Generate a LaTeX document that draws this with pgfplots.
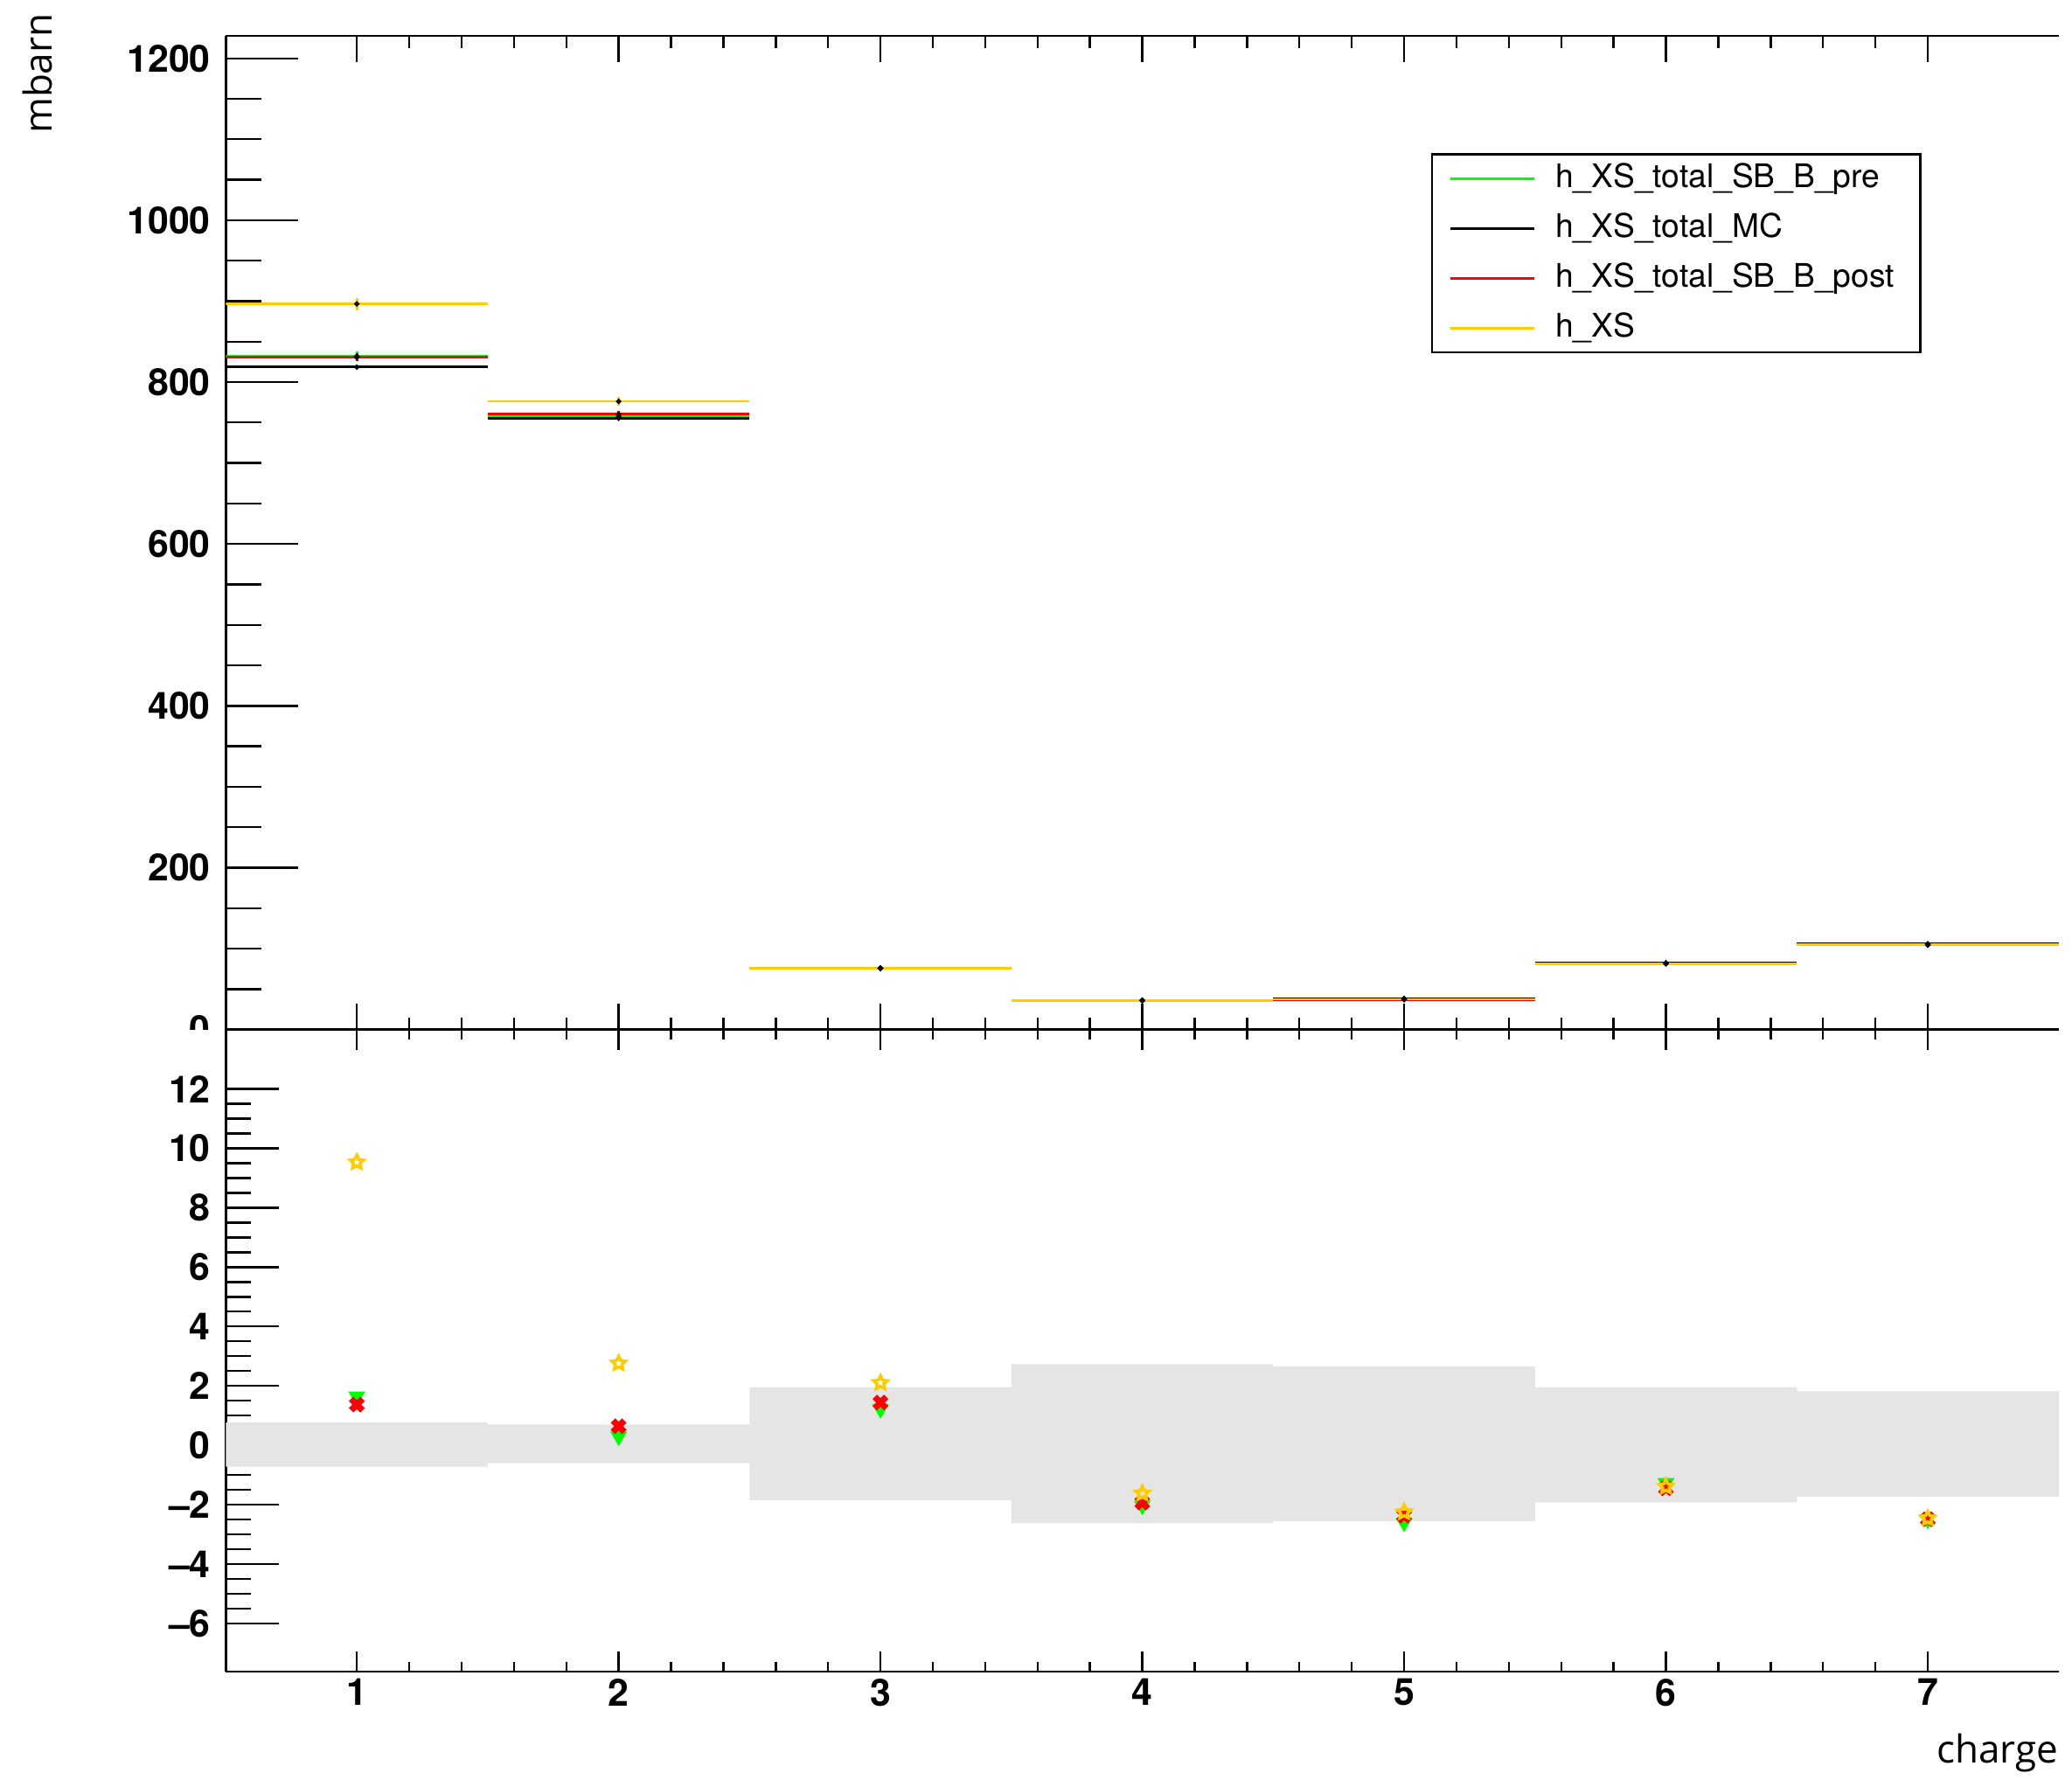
\documentclass[border=0pt]{standalone}
\usepackage{fontspec}
\setmainfont{TeX Gyre Heros}
\newfontfamily\titlefont{Open Sans}
\usepackage{pgfplots}
\pgfplotsset{compat=1.18}

\definecolor{rootgreen}{RGB}{0,255,0}
\definecolor{rootred}{RGB}{255,0,0}
\definecolor{rootyellow}{RGB}{255,204,0}
\definecolor{bandgrey}{RGB}{229,229,229}

% open five-pointed star marker
\pgfdeclareplotmark{openstar}{%
  \pgfpathmoveto{\pgfpointpolar{90}{\pgfplotmarksize}}%
  \pgfpathlineto{\pgfpointpolar{126}{0.5\pgfplotmarksize}}%
  \pgfpathlineto{\pgfpointpolar{162}{\pgfplotmarksize}}%
  \pgfpathlineto{\pgfpointpolar{198}{0.5\pgfplotmarksize}}%
  \pgfpathlineto{\pgfpointpolar{234}{\pgfplotmarksize}}%
  \pgfpathlineto{\pgfpointpolar{270}{0.5\pgfplotmarksize}}%
  \pgfpathlineto{\pgfpointpolar{306}{\pgfplotmarksize}}%
  \pgfpathlineto{\pgfpointpolar{342}{0.5\pgfplotmarksize}}%
  \pgfpathlineto{\pgfpointpolar{18}{\pgfplotmarksize}}%
  \pgfpathlineto{\pgfpointpolar{54}{0.5\pgfplotmarksize}}%
  \pgfpathclose
  \pgfusepathqstroke
}

\pgfplotsset{
  panel/.style={
    scale only axis, width=524.1pt,
    xmin=0.5, xmax=7.5,
    axis x line*=box, axis y line*=left,
    tick align=inside,
    axis line style={line width=0.6pt},
    every tick/.style={black, line width=0.6pt},
    xtick={1,2,3,4,5,6,7}, minor x tick num=4,
    minor y tick num=3,
    tick label style={font=\fontsize{10.7}{12}\selectfont\bfseries},
    yticklabel style={inner sep=0pt, xshift=-4.2pt},
    xticklabel style={inner sep=0pt, yshift=-1.9pt},
  },
  hist/.style={
    only marks, mark=*, mark size=0.35pt,
    mark options={draw=black, fill=black},
    line width=0.7pt,
    error bars/x dir=both, error bars/x explicit,
    error bars/y dir=both, error bars/y explicit,
    error bars/error mark=none,
    error bars/error bar style={line width=0.7pt},
  },
}

\begin{document}
\begin{tikzpicture}
\useasboundingbox (-64.6pt,-214.4pt) rectangle (527.9pt,294.4pt);

% upper panel: cross sections per charge bin
\begin{axis}[panel,
  at={(0pt,0pt)}, anchor=south west, height=284.2pt,
  ymin=0, ymax=1228,
  ytick={0,200,400,600,800,1000,1200},
  yticklabels={0,200,400,600,800,1000,1200},
  xticklabels=\empty,
  xtick style={/pgfplots/major tick length=7.5pt, /pgfplots/minor tick length=3.5pt},
  ytick style={/pgfplots/major tick length=20.75pt, /pgfplots/minor tick length=10.25pt},
  legend image code/.code={\draw[line width=0.7pt] (0pt,0pt) -- (24pt,0pt);},
  legend cell align=left,
  legend style={at={(0.6575,0.8816)}, anchor=north west,
    draw=black, line width=0.6pt, fill=white,
    inner xsep=4.9pt, inner ysep=2.2pt, row sep=4.75pt, column sep=5.7pt,
    font=\fontsize{9.3}{11}\selectfont,
    nodes={inner sep=0pt, text height=7.2pt, text depth=2.3pt,
           text width=99.4pt, align=left}},
]
\addplot[hist, color=rootgreen] coordinates {
  (1,832.0) +- (0.5,6) (2,757.8) +- (0.5,4) (3,75.6) +- (0.5,1)
  (4,35.6) +- (0.5,0.8) (5,36.9) +- (0.5,0.8) (6,81.5) +- (0.5,1)
  (7,104.5) +- (0.5,1)};
\addlegendentry{h\_XS\_total\_SB\_B\_pre}
\addplot[hist, color=black] coordinates {
  (1,818.5) +- (0.5,2) (2,755.2) +- (0.5,2) (3,75.3) +- (0.5,0.5)
  (4,36.3) +- (0.5,0.5) (5,38.5) +- (0.5,0.5) (6,82.4) +- (0.5,0.5)
  (7,106.0) +- (0.5,0.5)};
\addlegendentry{h\_XS\_total\_MC}
\addplot[hist, color=rootred] coordinates {
  (1,830.5) +- (0.5,5) (2,760.3) +- (0.5,4) (3,75.7) +- (0.5,1)
  (4,35.7) +- (0.5,0.8) (5,37.2) +- (0.5,0.8) (6,81.3) +- (0.5,1)
  (7,104.4) +- (0.5,1)};
\addlegendentry{h\_XS\_total\_SB\_B\_post}
\addplot[hist, color=rootyellow] coordinates {
  (1,896.5) +- (0.5,7.5) (2,776.2) +- (0.5,5) (3,76.0) +- (0.5,1)
  (4,35.9) +- (0.5,0.8) (5,37.4) +- (0.5,0.8) (6,81.4) +- (0.5,1)
  (7,104.6) +- (0.5,1)};
\addlegendentry{h\_XS}
\end{axis}

% the lower pad hides the lower half of the zero label
\fill[white] (-40pt,0pt) rectangle (-0.4pt,-6pt);

% lower panel: pulls with the MC uncertainty band
\begin{axis}[panel,
  at={(0pt,0pt)}, anchor=north west, height=183.6pt,
  ymin=-7.62, ymax=14,
  ytick={-6,-4,-2,0,2,4,6,8,10,12},
  yticklabels={\textendash6,\textendash4,\textendash2,0,2,4,6,8,10,12},
  xticklabels={1,2,3,4,5,6,7},
  xtick style={/pgfplots/major tick length=5.75pt, /pgfplots/minor tick length=2.75pt},
  ytick style={/pgfplots/major tick length=15.25pt, /pgfplots/minor tick length=7.25pt},
]
\addplot[draw=none, fill=bandgrey, forget plot] coordinates {
  (0.5,0.77) (1.5,0.77) (1.5,0.70) (2.5,0.70) (2.5,1.96) (3.5,1.96)
  (3.5,2.73) (4.5,2.73) (4.5,2.66) (5.5,2.66) (5.5,1.96) (6.5,1.96)
  (6.5,1.82) (7.5,1.82)
  (7.5,-1.73) (6.5,-1.73) (6.5,-1.92) (5.5,-1.92) (5.5,-2.55) (4.5,-2.55)
  (4.5,-2.62) (3.5,-2.62) (3.5,-1.85) (2.5,-1.85) (2.5,-0.60) (1.5,-0.60)
  (1.5,-0.72) (0.5,-0.72)};
\addplot[only marks, mark=triangle*, mark size=2.4pt, color=rootgreen,
  mark options={rotate=180}] coordinates {
  (1,1.65) (2,0.30) (3,1.22) (4,-2.03) (5,-2.60) (6,-1.27) (7,-2.50)};
\addplot[only marks, mark=x, mark size=2.3pt, color=rootred,
  mark options={line width=1.8pt}] coordinates {
  (1,1.37) (2,0.64) (3,1.44) (4,-1.93) (5,-2.37) (6,-1.45) (7,-2.49)};
\addplot[only marks, mark=openstar, mark size=2.0pt, color=rootyellow,
  mark options={line width=0.9pt}] coordinates {
  (1,9.53) (2,2.76) (3,2.10) (4,-1.62) (5,-2.25) (6,-1.39) (7,-2.46)};
\end{axis}

\node[rotate=90, anchor=base east, inner sep=0pt,
  font=\titlefont\fontsize{11}{13}\selectfont] at (-49.6pt,290.7pt) {mbarn};
\node[anchor=base east, inner sep=0pt,
  font=\titlefont\fontsize{11}{13}\selectfont] at (524.1pt,-209.6pt) {charge};
\end{tikzpicture}
\end{document}
